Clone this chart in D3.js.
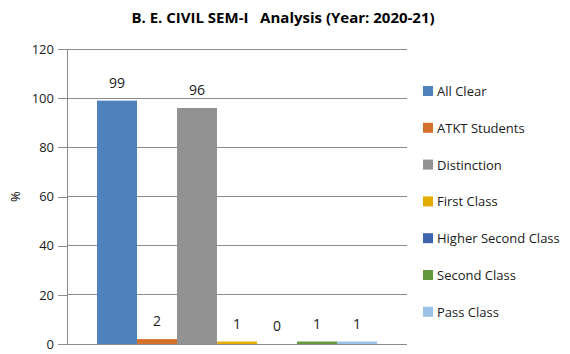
<!DOCTYPE html>
<html>
<head>
<meta charset="utf-8">
<script src="https://cdn.jsdelivr.net/npm/d3@7"></script>
<style>
  body { margin: 0; background: #fff; }
  text { font-family: "Open Sans", "Noto Sans", sans-serif; }
</style>
</head>
<body>
<div id="chart"></div>
<script>
// chart data
const categories = ["All Clear", "ATKT Students", "Distinction", "First Class", "Higher Second Class", "Second Class", "Pass Class"];
const values = [99, 2, 96, 1, 0, 1, 1];
const colors = ["#4f81bd", "#d4702b", "#929292", "#e5ac00", "#3f64b0", "#66993c", "#9cc1e6"];
const yTicks = [0, 20, 40, 60, 80, 100, 120];

const W = 570, H = 354;
const margin = {top: 49, right: 163, bottom: 10, left: 67};
const width = W - margin.left - margin.right;
const height = H - margin.top - margin.bottom;

const svg = d3.select("#chart").append("svg")
  .attr("width", W)
  .attr("height", H);

svg.append("text")
  .attr("x", 283)
  .attr("y", 23)
  .attr("text-anchor", "middle")
  .style("font-size", "15px")
  .style("font-weight", "bold")
  .style("white-space", "pre")
  .attr("xml:space", "preserve")
  .text("B. E. CIVIL SEM-I   Analysis (Year: 2020-21)");

const g = svg.append("g")
  .attr("transform", `translate(${margin.left},${margin.top})`);

const y = d3.scaleLinear().domain([0, 120]).range([height, 0]);
const x = d3.scaleBand().domain(categories).range([30, width - 30]).padding(0);

// gridlines
g.selectAll(".grid")
  .data(yTicks)
  .enter().append("line")
  .attr("x1", 0).attr("x2", width)
  .attr("y1", d => y(d)).attr("y2", d => y(d))
  .attr("stroke", "#8c8c8c")
  .attr("stroke-width", 1)
  .attr("shape-rendering", "crispEdges");

const yAxis = g.append("g")
  .call(d3.axisLeft(y).tickValues(yTicks).tickSize(9).tickPadding(4));
yAxis.select(".domain").attr("stroke", "#8c8c8c").attr("shape-rendering", "crispEdges");
yAxis.selectAll(".tick line").attr("stroke", "#8c8c8c").attr("shape-rendering", "crispEdges");
yAxis.selectAll("text")
  .style("font-size", "13px")
  .style("font-family", "'Open Sans', sans-serif")
  .attr("fill", "#1a1a1a");

svg.append("text")
  .attr("transform", `translate(20,${margin.top + height / 2}) rotate(-90)`)
  .attr("text-anchor", "middle")
  .style("font-size", "13px")
  .text("%");

// bars
g.selectAll(".bar")
  .data(categories)
  .enter().append("rect")
  .attr("x", d => x(d))
  .attr("width", x.bandwidth())
  .attr("y", (d, i) => y(values[i]))
  .attr("height", (d, i) => height - y(values[i]))
  .attr("fill", (d, i) => colors[i]);

// value labels
g.selectAll(".lbl")
  .data(categories)
  .enter().append("text")
  .attr("x", d => x(d) + x.bandwidth() / 2)
  .attr("y", (d, i) => y(values[i]) - 13)
  .attr("text-anchor", "middle")
  .style("font-size", "14px")
  .attr("fill", "#1a1a1a")
  .text((d, i) => values[i]);

// legend
const legend = svg.append("g").attr("transform", "translate(423,91)");
const rows = legend.selectAll(".row")
  .data(categories)
  .enter().append("g")
  .attr("transform", (d, i) => `translate(0,${i * 36.8})`);
rows.append("rect")
  .attr("x", 0).attr("y", -5)
  .attr("width", 10).attr("height", 10)
  .attr("fill", (d, i) => colors[i]);
rows.append("text")
  .attr("x", 14).attr("y", 5)
  .style("font-size", "13px")
  .attr("fill", "#1a1a1a")
  .text(d => d);
</script>
</body>
</html>
